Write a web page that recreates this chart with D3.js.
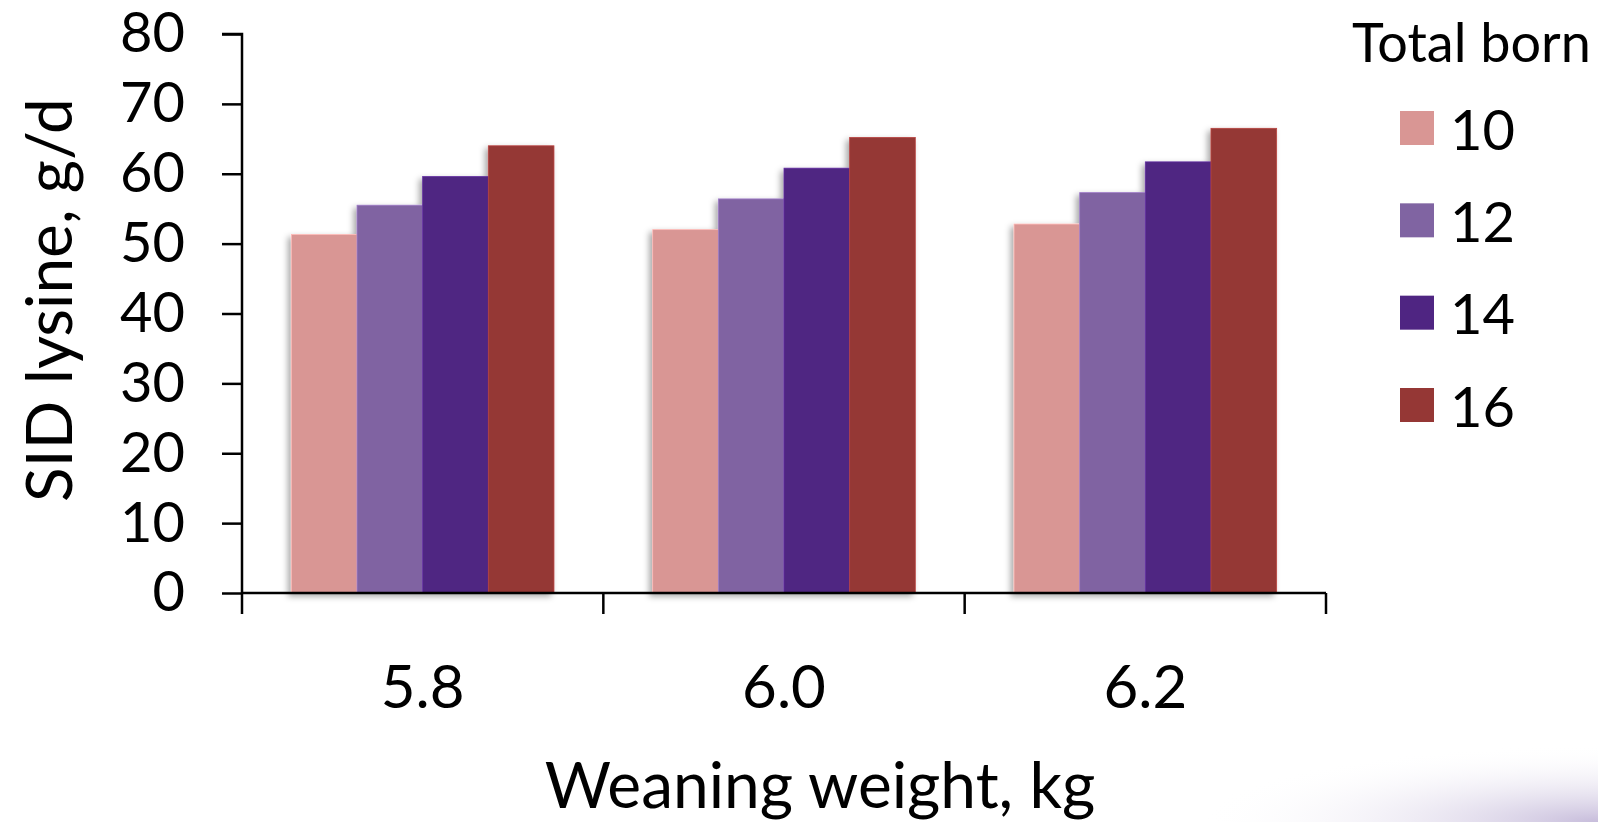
<!DOCTYPE html>
<html>
<head>
<meta charset="utf-8">
<script src="https://cdn.jsdelivr.net/npm/d3@7"></script>
<style>
  html, body { margin: 0; padding: 0; background: #ffffff; }
  svg { display: block; }
  text { font-family: Lato, "Open Sans", sans-serif; fill: #000; }
</style>
</head>
<body>
<svg id="chart" width="1598" height="822"></svg>
<script>
// ---- data ----
const categories = ["5.8", "6.0", "6.2"];
const seriesNames = ["10", "12", "14", "16"];
const values10 = [51.3, 52.0, 52.8];
const values12 = [55.5, 56.4, 57.3];
const values14 = [59.6, 60.8, 61.7];
const values16 = [64.0, 65.2, 66.5];
const seriesValues = [values10, values12, values14, values16];
const seriesColors = ["#D99694", "#8064A2", "#4F2582", "#953735"];
const yTicks = [0, 10, 20, 30, 40, 50, 60, 70, 80];
const yTitle = "SID lysine, g/d";
const xTitle = "Weaning weight, kg";
const legendTitle = "Total born";

// ---- layout ----
const svg = d3.select("#chart");
const plotLeft = 242, plotRight = 1326, plotTop = 34, plotBottom = 593;

const defs = svg.append("defs");
const shadow = defs.append("filter").attr("id", "shadow")
  .attr("x", "-10%").attr("y", "-10%").attr("width", "120%").attr("height", "120%");
shadow.append("feDropShadow").attr("dx", -3).attr("dy", 3)
  .attr("stdDeviation", 3).attr("flood-color", "#000").attr("flood-opacity", 0.35);

const corner = defs.append("radialGradient").attr("id", "corner")
  .attr("cx", "100%").attr("cy", "100%").attr("r", "100%");
corner.append("stop").attr("offset", "0%").attr("stop-color", "#b9acd2").attr("stop-opacity", 0.8);
corner.append("stop").attr("offset", "100%").attr("stop-color", "#ffffff").attr("stop-opacity", 0);

svg.append("rect").attr("x", 1200).attr("y", 745).attr("width", 398).attr("height", 77)
  .attr("fill", "url(#corner)");

const x = d3.scaleBand().domain(categories).range([plotLeft, plotRight]).padding(0);
const xInner = d3.scaleBand().domain(seriesNames).range([0, x.bandwidth()])
  .paddingInner(0).paddingOuter(0.752);
const y = d3.scaleLinear().domain([0, 80]).range([plotBottom, plotTop]);
const color = d3.scaleOrdinal().domain(seriesNames).range(seriesColors);

// ---- bars ----
const rows = categories.map((c, i) => ({
  cat: c,
  vals: seriesNames.map((s, j) => ({ key: s, value: seriesValues[j][i] }))
}));

const groups = svg.append("g").selectAll("g.grp").data(rows).join("g")
  .attr("class", "grp")
  .attr("transform", d => `translate(${x(d.cat)},0)`)
  .attr("filter", "url(#shadow)");

groups.selectAll("rect").data(d => d.vals).join("rect")
  .attr("x", d => xInner(d.key))
  .attr("y", d => y(d.value))
  .attr("width", xInner.bandwidth())
  .attr("height", d => y(0) - y(d.value))
  .attr("fill", d => color(d.key))
  .attr("stroke", d => d3.color(color(d.key)).brighter(0.6))
  .attr("stroke-width", 0.8);

// ---- y axis ----
const yAxis = d3.axisLeft(y).tickValues(yTicks).tickSize(20).tickSizeOuter(20).tickPadding(37);
const yg = svg.append("g").attr("transform", `translate(${plotLeft},0)`).call(yAxis);
yg.selectAll("path, line").attr("stroke", "#000").attr("stroke-width", 2.5);
yg.select(".domain").attr("d", `M-20,${plotTop}H0V${plotBottom}`);
yg.selectAll("text").style("font-size", "56px").style("font-family", "Lato, 'Open Sans', sans-serif").attr("fill", "#000");

// ---- x axis ----
const xg = svg.append("g");
xg.append("line").attr("x1", plotLeft).attr("x2", plotRight)
  .attr("y1", y(0)).attr("y2", y(0)).attr("stroke", "#000").attr("stroke-width", 2.5);
const bounds = categories.map(c => x(c)).concat([x(categories[categories.length - 1]) + x.bandwidth()]);
xg.selectAll("line.tick").data(bounds).join("line").attr("class", "tick")
  .attr("x1", d => d).attr("x2", d => d)
  .attr("y1", y(0)).attr("y2", y(0) + 21)
  .attr("stroke", "#000").attr("stroke-width", 2.5);
xg.selectAll("text").data(categories).join("text")
  .attr("x", d => x(d) + x.bandwidth() / 2)
  .attr("y", 708)
  .attr("text-anchor", "middle")
  .style("font-size", "60px")
  .text(d => d);

// ---- titles ----
svg.append("text")
  .attr("transform", "translate(47,300) rotate(-90)")
  .attr("text-anchor", "middle")
  .attr("dominant-baseline", "central")
  .style("font-size", "64px")
  .text(yTitle);

svg.append("text")
  .attr("x", 820).attr("y", 808)
  .attr("text-anchor", "middle")
  .style("font-size", "64px")
  .text(xTitle);

// ---- legend ----
svg.append("text").attr("x", 1352).attr("y", 62)
  .style("font-size", "54px").text(legendTitle);

const legendY = d3.scalePoint().domain(seriesNames).range([111, 388]);
const lg = svg.append("g").selectAll("g").data(seriesNames).join("g")
  .attr("transform", d => `translate(1400,${legendY(d)})`);
lg.append("rect").attr("width", 34).attr("height", 34).attr("fill", d => color(d));
lg.append("text").attr("x", 50).attr("y", 17)
  .attr("dominant-baseline", "central")
  .style("font-size", "56px").text(d => d);
</script>
</body>
</html>
